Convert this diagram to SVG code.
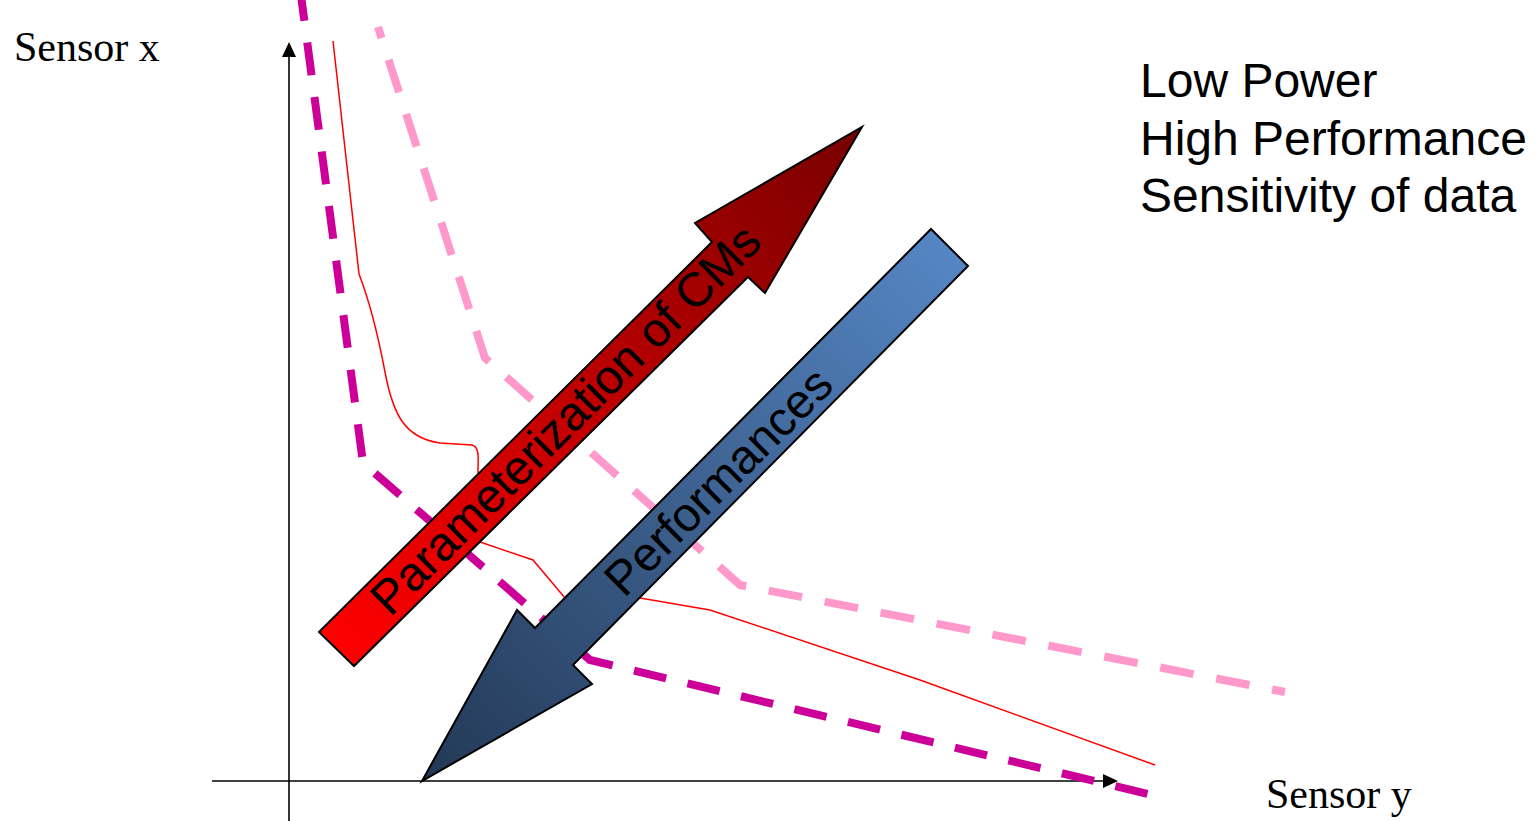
<svg xmlns="http://www.w3.org/2000/svg" width="1535" height="821" viewBox="0 0 1535 821">
<style>
.serif{font-family:"Liberation Serif","Times New Roman",serif;font-size:42px;fill:#000}
.sans{font-family:"Liberation Sans",Arial,sans-serif;font-size:48px;fill:#000}
.axis{stroke:#000;stroke-width:1.6;fill:none}
.dash-m{stroke:#CC0099;stroke-width:8;fill:none;stroke-dasharray:33 22}
.dash-p{stroke:#FF99CC;stroke-width:8;fill:none;stroke-dasharray:34 23}
.thin{stroke:#FF0000;stroke-width:1.5;fill:none}
.arrowshape{stroke:#000;stroke-width:2;stroke-linejoin:miter}
</style>
<defs>
<linearGradient id="gRed" gradientUnits="userSpaceOnUse" x1="336" y1="649" x2="862" y2="127">
<stop offset="0" stop-color="#FF0000"/>
<stop offset="1" stop-color="#780000"/>
</linearGradient>
<linearGradient id="gBlue" gradientUnits="userSpaceOnUse" x1="949" y1="247" x2="422" y2="781">
<stop offset="0" stop-color="#5586C4"/>
<stop offset="1" stop-color="#233855"/>
</linearGradient>
</defs>
<rect x="0" y="0" width="1535" height="821" fill="#fff"/>
<g id="axes">
<line class="axis" x1="289" y1="821" x2="289" y2="55"/>
<polygon points="289,42 282,57 296,57" fill="#000"/>
<line class="axis" x1="212" y1="781" x2="1105" y2="781"/>
<polygon points="1118,781 1103,774 1103,788" fill="#000"/>
</g>
<g id="connectors">
<path class="dash-m" d="M300,-12 L363,463 L590,660 L1165,798"/>
<path class="dash-p" stroke-dashoffset="22.5" d="M378,27 L485,358 L740,585 L1285,692"/>
<path class="thin" d="M333,41 L359,274 C371,305 378,335 385,372 C393,415 405,438 440,443 L472,445 C480,447 478,460 478,470 L480,542 L533,560 L565,598 L640,598 L710,610 L920,680 L1155,765"/>
</g>
<g id="node-param">
<polygon class="arrowshape" fill="url(#gRed)" points="319,632 712,242 695,223 862,127 765,293 748,277 354,666"/>
<text class="sans" x="577" y="431" text-anchor="middle" transform="rotate(-45 577 431)">Parameterization of CMs</text>
</g>
<g id="node-perf">
<polygon class="arrowshape" fill="url(#gBlue)" points="931,229 535,628 517,610 422,781 592,684 573,665 968,266"/>
<text class="sans" x="730" y="493" text-anchor="middle" transform="rotate(-45 730 493)">Performances</text>
</g>
<g id="label-x"><text class="serif" x="14" y="61">Sensor x</text></g>
<g id="label-y"><text class="serif" x="1266" y="808">Sensor y</text></g>
<g id="legend">
<text class="sans" x="1140" y="97">Low Power</text>
<text class="sans" x="1140" y="155">High Performance</text>
<text class="sans" x="1140" y="212">Sensitivity of data</text>
</g>
</svg>
